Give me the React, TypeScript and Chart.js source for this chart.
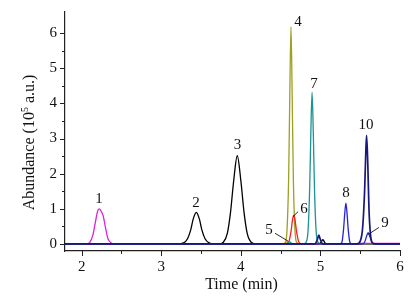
import React, { useEffect, useRef } from "react";
import { Chart, registerables } from "chart.js";

Chart.register(...registerables);

// ---- axis ticks ----
const xTicks = [2, 2.5, 3, 3.5, 4, 4.5, 5, 5.5, 6];
const yTicks = [0, 0.5, 1, 1.5, 2, 2.5, 3, 3.5, 4, 4.5, 5, 5.5, 6];

// ---- traces (time in min, abundance in 10^5 a.u.) ----
// navy: baseline, small peak ~4.98, peak 10
const navyTime = [1.79, 4.93, 4.96, 4.98, 5.0, 5.03, 5.46, 5.5, 5.53, 5.555, 5.57, 5.58, 5.595, 5.61, 5.63, 5.66, 5.7, 6.0];
const navyAbund = [0, 0, 0.12, 0.25, 0.12, 0, 0, 0.08, 0.45, 1.5, 2.6, 3.09, 2.3, 1.0, 0.25, 0.02, 0, 0];

// blue: peaks 8 and 9
const blueTime = [1.79, 5.24, 5.27, 5.29, 5.305, 5.32, 5.335, 5.35, 5.37, 5.4, 5.52, 5.555, 5.58, 5.6, 5.62, 5.645, 5.68, 6.0];
const blueAbund = [0, 0, 0.05, 0.4, 0.85, 1.16, 0.85, 0.4, 0.05, 0, 0, 0.05, 0.22, 0.32, 0.22, 0.05, 0, 0];

// teal: peak 5 (small) and peak 7
const tealTime = [1.79, 4.58, 4.615, 4.65, 4.78, 4.82, 4.845, 4.865, 4.88, 4.895, 4.91, 4.925, 4.945, 4.97, 5.02, 6.0];
const tealAbund = [0, 0, 0.06, 0, 0, 0.05, 0.4, 1.6, 3.2, 4.32, 3.2, 1.6, 0.4, 0.05, 0, 0];

// red: peak 6
const redTime = [1.79, 4.55, 4.6, 4.63, 4.65, 4.665, 4.68, 4.7, 4.73, 4.77, 6.0];
const redAbund = [0, 0, 0.05, 0.35, 0.7, 0.81, 0.7, 0.35, 0.05, 0, 0];

// olive: peak 4
const oliveTime = [1.79, 4.52, 4.56, 4.58, 4.6, 4.615, 4.63, 4.645, 4.66, 4.68, 4.7, 4.74, 6.0];
const oliveAbund = [0, 0, 0.05, 0.4, 1.8, 4.2, 6.18, 4.2, 1.8, 0.4, 0.05, 0, 0];

// black: peaks 2, 3 and a small bump ~5.03
const blackTime = [1.79, 3.2, 3.28, 3.33, 3.37, 3.4, 3.44, 3.48, 3.51, 3.55, 3.6, 3.66, 3.72, 3.78, 3.83, 3.87, 3.91, 3.955, 4.0, 4.04, 4.08, 4.13, 4.2, 4.99, 5.03, 5.07, 6.0];
const blackAbund = [0, 0, 0.03, 0.15, 0.4, 0.7, 0.9, 0.7, 0.4, 0.15, 0.03, 0, 0, 0.05, 0.3, 0.9, 1.8, 2.51, 1.8, 0.9, 0.3, 0.05, 0, 0, 0.12, 0, 0];

// magenta: peak 1
const magentaTime = [1.79, 2.06, 2.1, 2.14, 2.17, 2.2, 2.22, 2.245, 2.27, 2.3, 2.33, 2.37, 2.42, 5.4, 5.5, 6.0];
const magentaAbund = [0, 0, 0.04, 0.25, 0.6, 0.93, 1.0, 0.93, 0.8, 0.45, 0.15, 0.03, 0, 0, 0.015, 0.015];

// orange: small bumps
const orangeTime = [1.79, 4.54, 4.58, 4.62, 4.92, 4.96, 5.0, 6.0];
const orangeAbund = [0, 0, 0.06, 0, 0, 0.04, 0, 0];

// ---- peak labels (data coordinates) ----
const labelTexts = ["1", "2", "3", "4", "5", "6", "7", "8", "9", "10"];
const labelTimes = [2.217, 3.436, 3.958, 4.718, 4.354, 4.794, 4.919, 5.321, 5.812, 5.573];
const labelAbund = [1.28, 1.171, 2.82, 6.32, 0.388, 1.003, 4.557, 1.451, 0.584, 3.382];

// leader lines: [fromT, fromA, toT, toA]
const leader5 = [4.43, 0.304, 4.594, 0.08];
const leader6 = [4.719, 0.919, 4.656, 0.779];
const leader9 = [5.735, 0.47, 5.6, 0.27];

const SERIF = "'Liberation Serif', 'Times New Roman', serif";

function pts(t: number[], a: number[]) {
  return t.map((x, i) => ({ x, y: a[i] }));
}

const overlay = {
  id: "overlay",
  afterDraw(chart: any) {
    const ctx = chart.ctx;
    const xs = chart.scales.x;
    const ys = chart.scales.y;
    const area = chart.chartArea;
    ctx.save();
    // tick marks
    ctx.strokeStyle = "#222";
    ctx.lineWidth = 1;
    xTicks.forEach((v) => {
      const px = Math.round(xs.getPixelForValue(v)) + 0.5;
      const len = Number.isInteger(v) ? 5 : 3;
      ctx.beginPath();
      ctx.moveTo(px, area.bottom);
      ctx.lineTo(px, area.bottom + len);
      ctx.stroke();
    });
    yTicks.forEach((v) => {
      const py = Math.round(ys.getPixelForValue(v)) + 0.5;
      const len = Number.isInteger(v) ? 5 : 3;
      ctx.beginPath();
      ctx.moveTo(area.left, py);
      ctx.lineTo(area.left - len, py);
      ctx.stroke();
    });
    // leaders
    ctx.strokeStyle = "#111";
    ctx.lineWidth = 0.9;
    [leader5, leader6, leader9].forEach((l) => {
      ctx.beginPath();
      ctx.moveTo(xs.getPixelForValue(l[0]), ys.getPixelForValue(l[1]));
      ctx.lineTo(xs.getPixelForValue(l[2]), ys.getPixelForValue(l[3]));
      ctx.stroke();
    });
    // peak labels
    ctx.fillStyle = "#111";
    ctx.font = `15px ${SERIF}`;
    ctx.textAlign = "center";
    ctx.textBaseline = "middle";
    labelTexts.forEach((s, i) => {
      ctx.fillText(s, xs.getPixelForValue(labelTimes[i]), ys.getPixelForValue(labelAbund[i]));
    });
    // x title
    ctx.font = `16px ${SERIF}`;
    ctx.fillText("Time (min)", (area.left + area.right) / 2 + 9, area.bottom + 34);
    // y title with superscript
    ctx.save();
    ctx.translate(30, (area.top + area.bottom) / 2 + 11);
    ctx.rotate(-Math.PI / 2);
    const p1 = "Abundance (10";
    const p2 = "5";
    const p3 = " a.u.)";
    ctx.font = `16px ${SERIF}`;
    const w1 = ctx.measureText(p1).width;
    const w3 = ctx.measureText(p3).width;
    ctx.font = `10px ${SERIF}`;
    const w2 = ctx.measureText(p2).width;
    const total = w1 + w2 + w3;
    let x0 = -total / 2;
    ctx.textAlign = "left";
    ctx.font = `16px ${SERIF}`;
    ctx.fillText(p1, x0, 0);
    ctx.font = `10px ${SERIF}`;
    ctx.fillText(p2, x0 + w1, -5);
    ctx.font = `16px ${SERIF}`;
    ctx.fillText(p3, x0 + w1 + w2, 0);
    ctx.restore();
    ctx.restore();
  },
};

export default function App() {
  const ref = useRef<HTMLCanvasElement | null>(null);
  useEffect(() => {
    if (!ref.current) return;
    const mk = (label: string, t: number[], a: number[], color: string, w = 1.3) => ({
      label,
      data: pts(t, a),
      borderColor: color,
      backgroundColor: color,
      borderWidth: w,
      pointRadius: 0,
      fill: false,
      cubicInterpolationMode: "monotone" as const,
    });
    const chart = new Chart(ref.current, {
      type: "line",
      data: {
        datasets: [
          mk("navy", navyTime, navyAbund, "#17177f", 1.7),
          mk("blue", blueTime, blueAbund, "#2323d8"),
          mk("teal", tealTime, tealAbund, "#1b9494"),
          mk("red", redTime, redAbund, "#ff1c1c"),
          mk("olive", oliveTime, oliveAbund, "#9f9f22"),
          mk("black", blackTime, blackAbund, "#000000"),
          mk("magenta", magentaTime, magentaAbund, "#e01ee0"),
          mk("orange", orangeTime, orangeAbund, "#ff8a1a"),
        ],
      },
      plugins: [overlay],
      options: {
        animation: false,
        responsive: true,
        maintainAspectRatio: false,
        layout: { padding: { top: 8, right: 15, left: 0, bottom: 0 } },
        plugins: { legend: { display: false }, tooltip: { enabled: false } },
        scales: {
          x: {
            type: "linear",
            min: 1.79,
            max: 6,
            afterBuildTicks: (s: any) => {
              s.ticks = xTicks.map((v) => ({ value: v }));
            },
            afterFit: (s: any) => {
              s.height = 47;
            },
            ticks: {
              autoSkip: false,
              maxRotation: 0,
              padding: 2,
              color: "#111",
              font: { family: SERIF, size: 15 },
              callback: (v: any) => (Number.isInteger(v) ? String(v) : ""),
            },
            grid: { display: true, drawOnChartArea: false, drawTicks: true, tickLength: 5, color: "rgba(0,0,0,0)", tickColor: "rgba(0,0,0,0)" },
            border: { display: true, color: "#222", width: 1.2 },
          },
          y: {
            type: "linear",
            min: -0.2,
            max: 6.6,
            afterBuildTicks: (s: any) => {
              s.ticks = yTicks.map((v) => ({ value: v }));
            },
            afterFit: (s: any) => {
              s.width = 65;
            },
            ticks: {
              autoSkip: false,
              padding: 3,
              color: "#111",
              font: { family: SERIF, size: 15 },
              callback: (v: any) => (Number.isInteger(v) ? String(v) : ""),
            },
            grid: { display: true, drawOnChartArea: false, drawTicks: true, tickLength: 5, color: "rgba(0,0,0,0)", tickColor: "rgba(0,0,0,0)" },
            border: { display: true, color: "#222", width: 1.2 },
          },
        },
      },
    });
    return () => chart.destroy();
  }, []);
  return (
    <div style={{ position: "absolute", left: 0, top: 0, width: 415, height: 298, background: "#fff" }}>
      <canvas ref={ref} />
    </div>
  );
}
